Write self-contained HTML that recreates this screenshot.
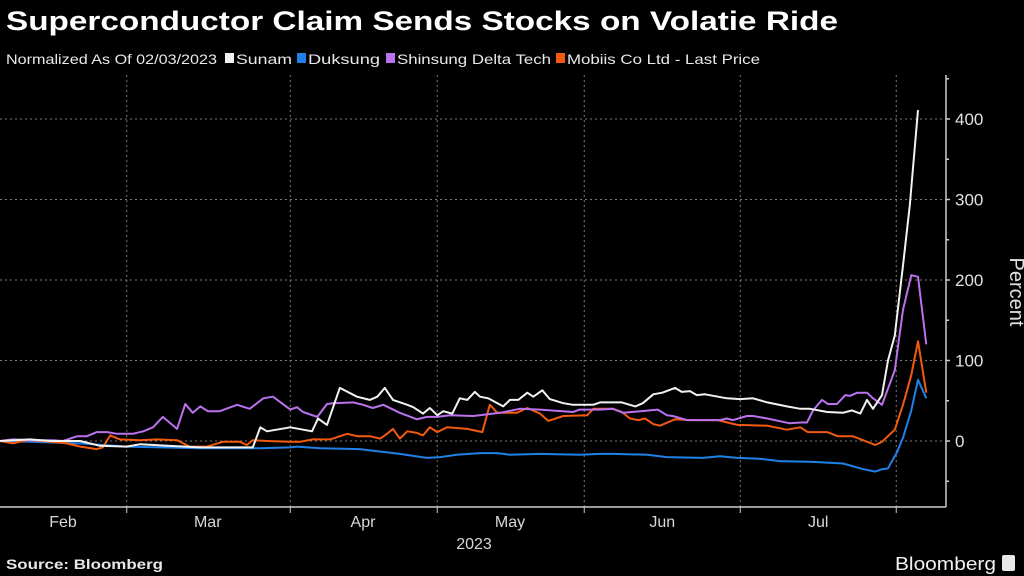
<!DOCTYPE html>
<html><head><meta charset="utf-8"><style>
html,body{margin:0;padding:0;background:#000;width:1024px;height:576px;overflow:hidden}
svg{display:block}
text{font-family:"Liberation Sans",sans-serif}
</style></head><body>
<svg id="chart" width="1024" height="576" xmlns="http://www.w3.org/2000/svg">
<rect width="1024" height="576" fill="#000"/>
<text x="6" y="30" fill="#fff" font-size="27" font-weight="bold" textLength="832" lengthAdjust="spacingAndGlyphs">Superconductor Claim Sends Stocks on Volatie Ride</text>
<g font-size="14" fill="#e8e8e8">
<text x="6" y="64" textLength="211" lengthAdjust="spacingAndGlyphs">Normalized As Of 02/03/2023</text>
<g><rect x="225" y="53" width="9" height="10" fill="#f2f2f2"/><text x="236" y="64" textLength="56" lengthAdjust="spacingAndGlyphs">Sunam</text></g>
<g><rect x="297" y="53" width="9" height="10" fill="#1f80e6"/><text x="308" y="64" textLength="72" lengthAdjust="spacingAndGlyphs">Duksung</text></g>
<g><rect x="386" y="53" width="9" height="10" fill="#bb72ee"/><text x="397" y="64" textLength="154" lengthAdjust="spacingAndGlyphs">Shinsung Delta Tech</text></g>
<g><rect x="556" y="53" width="9" height="10" fill="#f25a0f"/><text x="567" y="64" textLength="193" lengthAdjust="spacingAndGlyphs">Mobiis Co Ltd - Last Price</text></g>
</g>
<g id="grid"></g>
<g id="axes"></g>
<g id="series"></g>
<text x="1010" y="292" fill="#e0e0e0" font-size="20" text-anchor="middle" transform="rotate(90 1010 292)">Percent</text>
<text x="474" y="549" fill="#d8d8d8" font-size="16" text-anchor="middle">2023</text>
<text x="6" y="569" fill="#e8e8e8" font-size="14" font-weight="bold" textLength="157" lengthAdjust="spacingAndGlyphs">Source: Bloomberg</text>
<text x="895" y="570" fill="#f2f2f2" font-size="18" textLength="101" lengthAdjust="spacingAndGlyphs">Bloomberg</text>
<rect x="1002" y="555" width="13" height="16" rx="2" fill="#e8e8e8"/>
</svg>
<script>
const yTicks=[0,100,200,300,400];
const yMinor=[-50,50,150,250,350,450];
const monthLabels=["Feb","Mar","Apr","May","Jun","Jul"];
const monthLabelDays=[8.4,27.7,48.4,68,88.3,109.1];
const monthBoundaryDays=[16.9,38.7,58.3,77.9,98.7,119.5];
const sunamT=[0,4,6.7,10.7,13.3,16.9,18.7,22.3,26.7,33.7,34.7,35.6,38.7,41.6,42.4,43.6,45.3,47.6,49.3,50.3,51.3,52.4,54.3,55.1,56.4,57.3,58.3,59.1,60.3,61.3,62.3,63.3,64,65.1,67.1,68,69.1,70.3,71.1,72.3,73.3,75.1,76.4,78.3,79.1,80,82.9,84.7,85.7,87.1,88.3,90,90.9,92,92.9,94,96.9,98.7,100.4,102.3,104.9,106.7,108,110.3,112.4,113.6,114.7,115.6,116.4,117.6,118.4,119.3,120.4,121.3,122.4];
const sunamV=[0,2,0,0,-6,-7,-4,-6,-8,-8,17,12,17,12,28,20,66,55,51,55,66,51,45,42,34,41,32,37,34,53,51,61,55,53,43,51,51,60,55,63,52,47,45,45,45,48,48,43,47,58,60,66,61,62,57,58,53,52,53,48,43,40,40,36,35,38,34,51,40,57,100,131,218,293,411];
const shinT=[0,1.7,4.4,7.1,8.4,10.3,11.6,12.9,14.3,15.6,17.7,19.1,20.4,21.7,23.6,24.7,25.7,26.7,27.7,29.3,31.6,33.3,35.1,36.4,38.7,39.6,40.4,42.3,43.6,44.4,47.1,48.4,49.7,51.1,53.3,55.6,56.9,58.3,60,63.1,66.7,69.3,72,76.4,77.3,80,81.7,83.1,87.7,88.9,89.7,91.6,96,96.9,97.7,99.6,100.4,102.3,105.3,106.7,107.6,108.4,109.6,110.4,111.6,112.7,113.3,114.3,115.6,116.4,117.6,119.3,120.4,121.5,122.4,123.5];
const shinV=[0,2,1,1,0,6,6,11,11,9,9,12,17,30,15,46,35,43,37,37,45,40,53,55,39,42,36,30,46,47,48,45,41,45,35,27,30,30,32,31,35,40,39,36,39,39,40,35,39,32,31,26,26,28,26,31,31,28,22,23,23,38,51,46,46,57,56,60,60,53,45,88,163,206,204,120];
const mobiisT=[0,1.7,3.6,5.7,8.9,10.7,12.9,13.7,14.7,16,18.7,20.9,23.6,25.3,27.6,29.7,32,32.9,33.7,35.6,38.7,40,41.7,44,46.3,47.6,49.3,50.7,51.6,52.4,53.3,54.3,55.6,56.4,57.3,58.3,59.6,62.3,64.3,65.3,66.3,68.9,70.3,72,73.1,75.1,78.3,79.1,81.7,82.9,84,85.1,86,87.1,88,90,92,95.7,98.3,102.3,104.9,106.7,107.7,110.3,111.7,113.7,116.7,117.6,119.3,120.4,121.5,122.4,123.5];
const mobiisV=[0,-3,1,0,-3,-7,-10,-8,7,2,1,2,1,-7,-7,-1,-1,-5,1,0,-1,-1,2,2,9,6,6,3,9,15,3,12,10,7,17,11,17,15,11,45,35,35,41,34,25,31,32,40,40,36,28,26,28,21,19,27,26,26,20,19,14,17,11,11,6,6,-5,-1,14,45,82,124,60];
const duksungT=[0,4,10.7,16.9,26.7,34.7,38.7,39.6,42.7,48,49.7,53.3,56.9,58.7,60.9,64,66.3,68,72,77.3,80,81.7,86.3,88.9,93.7,96,98.3,101.3,104,108.4,112.4,115.1,116.7,117.6,118.4,119.6,120.4,121.5,122.4,123.5];
const duksungV=[0,-1,-3,-7,-9,-9,-8,-7,-9,-10,-12,-16,-21,-20,-17,-15,-15,-17,-16,-17,-16,-16,-17,-20,-21,-19,-21,-22,-25,-26,-28,-35,-38,-35,-34,-14,4,38,76,53];

const NS='http://www.w3.org/2000/svg';
const plotTop=75, plotBottom=507, plotRight=946;
function xs(d){return d*7.5;}
function ys(v){return 441 - v*0.805;}
function mk(tag,attrs,parent){const e=document.createElementNS(NS,tag);for(const k in attrs)e.setAttribute(k,attrs[k]);parent.appendChild(e);return e;}
const grid=document.getElementById('grid'), axes=document.getElementById('axes'), series=document.getElementById('series');
yTicks.forEach(v=>{
  const l=mk('line',{x1:0,x2:plotRight,y1:ys(v),y2:ys(v),stroke:'#7a7a7a','stroke-width':1,'stroke-dasharray':'2,3'},grid);
  
  
  const t=mk('line',{x1:plotRight,x2:plotRight+4,y1:ys(v),y2:ys(v),stroke:'#ccc','stroke-width':1.5},axes);
  
  
  const tx=mk('text',{x:plotRight+9,y:ys(v)+6,fill:'#e0e0e0','font-size':17},axes);
  tx.textContent=v;
  
  
});
yMinor.forEach(v=>{
  const t=mk('line',{x1:plotRight,x2:plotRight+3,y1:ys(v),y2:ys(v),stroke:'#ccc','stroke-width':1.5},axes);
  
  
});
monthBoundaryDays.forEach(d=>{
  const l=mk('line',{x1:xs(d),x2:xs(d),y1:plotTop,y2:plotBottom,stroke:'#7a7a7a','stroke-width':1,'stroke-dasharray':'2,3'},grid);
  
  
  const t=mk('line',{x1:xs(d),x2:xs(d),y1:plotBottom,y2:plotBottom+6,stroke:'#ccc','stroke-width':1},axes);
  
  
});
monthLabels.forEach((m,i)=>{
  const tx=mk('text',{x:xs(monthLabelDays[i]),y:527,fill:'#d8d8d8','font-size':16,'text-anchor':'middle'},axes);
  tx.textContent=m;
  
  
});
const xa=mk('line',{x1:0,x2:plotRight,y1:plotBottom,y2:plotBottom,stroke:'#ccc','stroke-width':1.5},axes);


const ya=mk('line',{x1:plotRight,x2:plotRight,y1:plotTop,y2:plotBottom,stroke:'#ccc','stroke-width':1.5},axes);


function drawLine(T,V,color,name){
  const pts=T.map((t,i)=>xs(t).toFixed(1)+','+ys(V[i]).toFixed(1)).join(' ');
  const p=mk('polyline',{points:pts,fill:'none',stroke:color,'stroke-width':2,'stroke-linejoin':'round'},series);
  
  
}
drawLine(duksungT,duksungV,'#1f80e6','line-duksung');
drawLine(mobiisT,mobiisV,'#f25a0f','line-mobiis');
drawLine(shinT,shinV,'#bb72ee','line-shinsung');
drawLine(sunamT,sunamV,'#f2f2f2','line-sunam');
</script>
</body></html>
